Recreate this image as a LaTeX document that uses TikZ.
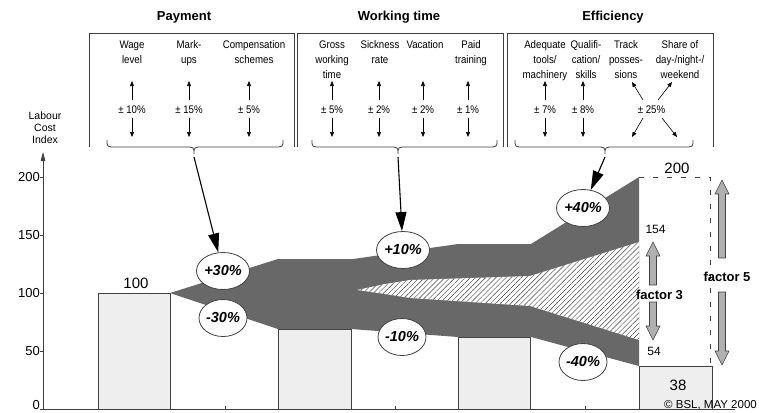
\documentclass[tikz,border=0pt]{standalone}
\usepackage{fontspec}
\setmainfont{Liberation Sans}
\newfontfamily\condfont[FakeStretch=0.88]{Liberation Sans}
\usetikzlibrary{arrows.meta,patterns.meta,shapes.geometric}
\definecolor{band}{HTML}{686868}
\definecolor{barfill}{HTML}{EEEEEE}
\definecolor{lin}{HTML}{404040}
\definecolor{garr}{HTML}{B0B0B0}
\newcommand\fs[2]{\fontsize{#1}{#2}\selectfont}
\newcommand\mybrace[3]{\draw[brc] (#1,140) .. controls (#1,147) and (#1,147) .. ({#1+9},147) -- ({#2-9},147) .. controls (#2,147) and (#2,147) .. (#2,154) .. controls (#2,147) and (#2,147) .. ({#2+9},147) -- ({#3-9},147) .. controls (#3,147) and (#3,147) .. (#3,140);}
\newcommand\colitem[5]{%
  \node[itemtxt] at (#1,40.5) {#3};
  \node[pmtxt] (#5) at (#2,113) {#4};
  \draw[smallarr] (#2,100) -- (#2,81);
  \draw[smallarr] (#2,118) -- (#2,137);}
\begin{document}
\begin{tikzpicture}[x=1pt,y=-1pt,
  box/.style={draw=lin, line width=0.9pt},
  itemtxt/.style={anchor=north, inner sep=0pt, align=center, font=\condfont\fs{11}{15}},
  pmtxt/.style={anchor=base, inner sep=0pt, font=\condfont\fs{11}{13}},
  smallarr/.style={-{Triangle[length=5pt,width=4pt]}, line width=0.6pt},
  title/.style={anchor=base, inner sep=0pt, font=\bfseries\fs{13}{15}},
  bigarr/.style={-{Triangle[length=19pt,width=11pt]}, line width=1.1pt},
  pct/.style={ellipse, draw=lin, fill=white, line width=0.8pt, minimum width=48pt, minimum height=37pt, inner sep=0pt, font=\bfseries\itshape\fs{14.5}{16}},
  barst/.style={draw=lin, fill=barfill, line width=0.6pt},
  brc/.style={draw=lin, line width=0.8pt},
  fat/.style={draw=lin, fill=garr, line width=0.6pt},
  num/.style={anchor=base, inner sep=0pt, font=\fs{15}{17}},
  smallnum/.style={anchor=base, inner sep=0pt, font=\fs{12}{14}},
  fact/.style={anchor=base, inner sep=0pt, font=\bfseries\fs{13}{15}},
  ticklab/.style={anchor=east, inner sep=0pt, font=\fs{13}{15}}]
\useasboundingbox (0,0) rectangle (759,412);
\fill[white] (0,0) rectangle (759,412);

% ---------- header boxes ----------
\node[title] (tpay) at (184,20.5) {Payment};
\node[title] (twork) at (399,20.5) {Working time};
\node[title] (teff) at (613,20.5) {Efficiency};
\draw[box] (89,147) -- (89,33) -- (294.5,33) -- (294.5,147);
\draw[box] (297.5,147) -- (297.5,33) -- (503.5,33) -- (503.5,147);
\draw[box] (507,147) -- (507,33) -- (713,33) -- (713,147);

\colitem{132}{132}{Wage\\level}{± 10\%}{p1}
\colitem{189}{189}{Mark-\\ups}{± 15\%}{p2}
\colitem{254}{249}{Compensation\\schemes}{± 5\%}{p3}
\colitem{332}{332}{Gross\\working\\time}{± 5\%}{p4}
\colitem{380}{379}{Sickness\\rate}{± 2\%}{p5}
\colitem{425}{423}{Vacation}{± 2\%}{p6}
\colitem{471}{468}{Paid\\training}{± 1\%}{p7}
\colitem{545}{545}{Adequate\\tools/\\machinery}{± 7\%}{p8}
\colitem{586}{583}{Qualifi-\\cation/\\skills}{± 8\%}{p9}
\node[itemtxt] (track) at (626,40.5) {Track\\posses-\\sions};
\node[itemtxt] (share) at (680,40.5) {Share of\\day-/night-/\\weekend};
\node[pmtxt] (p10) at (651.5,113) {± 25\%};
\draw[smallarr] (643,100) -- (632,82);
\draw[smallarr] (658,100) -- (672,82);
\draw[smallarr] (643,118) -- (632,137);
\draw[smallarr] (662,118) -- (677,137);

% braces
\mybrace{107}{194}{283}
\mybrace{312}{398}{497}
\mybrace{515}{605}{693}
\coordinate (t1) at (194,157);
\coordinate (t2) at (398,157);
\coordinate (t3) at (605,157);

% ---------- chart ----------
\draw[barst] (98,409) rectangle (170,293);
\draw[barst] (278,409) rectangle (351,329);
\draw[barst] (458,409) rectangle (530,337);
\draw[barst] (639,409) rectangle (712,366);

\fill[band] (170,293) -- (278,259) -- (353,259) -- (458,244) -- (531,244) -- (639,177)
  -- (639,366) -- (531,337) -- (458,337) -- (351,329) -- (278,329) -- cycle;
\fill[white, postaction={pattern={Lines[angle=45,distance=3.6pt,line width=0.45pt]}, pattern color=lin}]
  (357,290) -- (385,284) -- (410,280) -- (470,278) -- (530,276) -- (639,242)
  -- (639,340) -- (530,306) -- (470,302) -- (410,298) -- (385,294) -- cycle;

% dashed frame
\draw[lin, line width=0.7pt, dash pattern=on 5pt off 9pt] (639,177) -- (710,177) -- (710,366);

% axes
\draw[lin, line width=0.8pt, -{Triangle[length=9pt,width=4.5pt]}] (43,409) -- (43,152);
\draw[lin, line width=0.8pt] (43,409) -- (735,409);
\foreach \x in {225,395,585} \draw[lin, line width=0.6pt] (\x,409) -- (\x,406);
\foreach \v/\y in {200/176.8,150/234.9,100/292.9,50/351} {
  \draw[lin, line width=0.6pt] (40,\y) -- (43,\y);
  \node[ticklab] at (40,\y) {\v};
}
\draw[lin, line width=0.6pt] (40,409) -- (43,409);
\node[ticklab] (zero) at (40,405.5) {0};
\node[anchor=north, inner sep=0pt, align=center, font=\fs{10.5}{12}] (ylab) at (45,111.5) {Labour\\Cost\\Index};

% ellipses
\node[pct] (e1) at (223,271) {+30\%};
\node[pct] (e2) at (223,318) {-30\%};
\node[pct] (e3) at (403,250) {+10\%};
\node[pct] (e4) at (402,337) {-10\%};
\node[pct] (e5) at (583,208) {+40\%};
\node[pct] (e6) at (583,362) {-40\%};

\draw[bigarr] (t1) -- (e1);
\draw[bigarr] (t2) -- (e3);
\draw[bigarr] (t3) -- (e5);

% values
\node[num] (n100) at (136,288.5) {100};
\node[num] (n200) at (677,173) {200};
\node[num] (n38) at (678,390) {38};
\node[smallnum] (n154) at (655.5,233) {154};
\node[smallnum] (n54) at (654,355) {54};

% fat grey arrows
\draw[fat] (649.5,285) -- (649.5,256) -- (646,256) -- (653,242) -- (660,256) -- (656.5,256) -- (656.5,285) -- cycle;
\draw[fat] (649.5,302) -- (649.5,326) -- (646,326) -- (653,340) -- (660,326) -- (656.5,326) -- (656.5,302) -- cycle;
\draw[fat] (718.5,258) -- (718.5,194) -- (715,194) -- (722,180) -- (729,194) -- (725.5,194) -- (725.5,258) -- cycle;
\draw[fat] (718.5,292) -- (718.5,351) -- (715,351) -- (722,365) -- (729,351) -- (725.5,351) -- (725.5,292) -- cycle;
\node[fact] (f3) at (659.5,299) {factor 3};
\node[fact] (f5) at (727,281) {factor 5};

\node[anchor=base east, inner sep=0pt, font=\fs{11.5}{13}] (copy) at (757,408.5) {© BSL, MAY 2000};
\end{tikzpicture}
\end{document}
